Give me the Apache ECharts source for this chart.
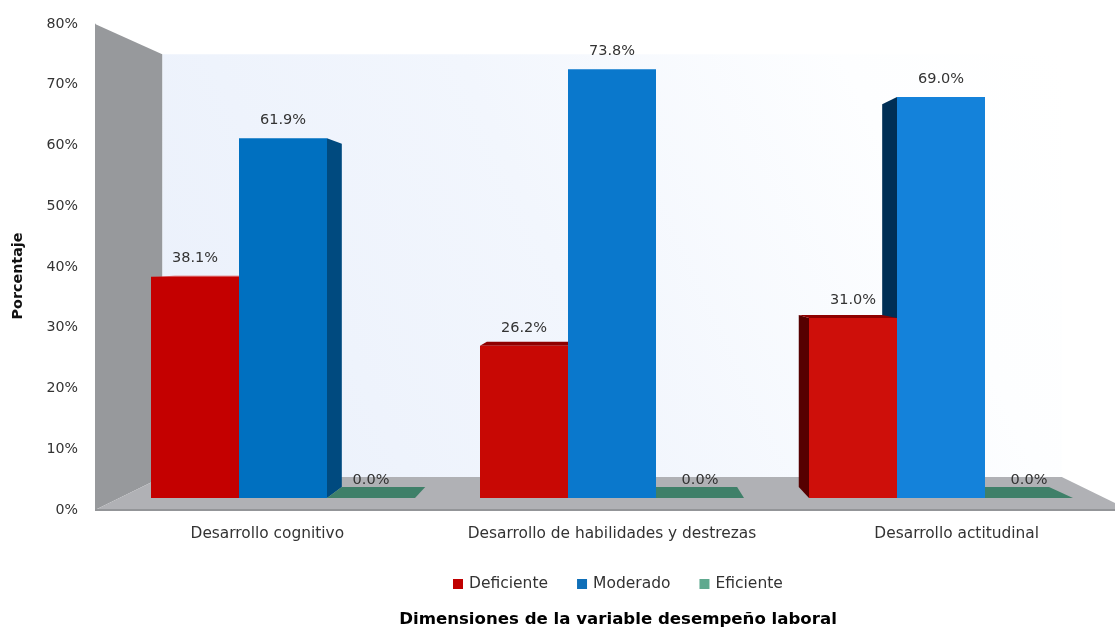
<!DOCTYPE html>
<html><head><meta charset="utf-8">
<style>html,body{margin:0;padding:0;background:#fff}#c{width:1115px;height:628px}</style>
<script src="https://cdn.jsdelivr.net/npm/echarts@6/dist/echarts.min.js"></script>
</head><body><div id="c"></div>
<script>
const categories = ['Desarrollo cognitivo', 'Desarrollo de habilidades y destrezas', 'Desarrollo actitudinal'];
const deficiente = [38.1, 26.2, 31.0];
const moderado = [61.9, 73.8, 69.0];
const eficiente = [0.0, 0.0, 0.0];
const seriesNames = ['Deficiente', 'Moderado', 'Eficiente'];
const legendColors = ['#c00000', '#0f6fb8', '#5fa98f'];
const frontColors = [['#c40000', '#c80804', '#ce0f0a'], ['#0070c0', '#0a78cc', '#1482da'], ['#3f8069', '#3f8069', '#3f8069']];
const sideColors = [['#5c0000', '#7a0000', '#560000'], ['#004a7f', '#004a7f', '#002f55'], ['#3f8069', '#3f8069', '#3f8069']];
const topColors = [['#d84040', '#8f0000', '#8f0000'], ['#0a5a98', '#0a5a98', '#0a5a98'], ['#3f8069', '#3f8069', '#3f8069']];

const VX = 612, VY = 256, WALL_K = 0.13, BAR_KX = 0.052, BAR_KY = 0.0455, BAR_RATIO = 88 / 329;
const TXT = '"DejaVu Sans"';

function poly(points, fill, z2) {
  return { type: 'polygon', shape: { points }, style: { fill }, z2, silent: true };
}
function renderRoom(params) {
  const c = params.coordSys, x0 = c.x, x1 = c.x + c.width, yT = c.y, yB = c.y + c.height;
  const bx = x => x + (VX - x) * WALL_K, by = y => y + (VY - y) * WALL_K;
  const wall = {
    type: 'linear', x: 0, y: 1, x2: 1, y2: 0,
    colorStops: [{ offset: 0, color: '#eaf0fb' }, { offset: 0.45, color: '#f2f6fd' }, { offset: 0.8, color: '#fdfeff' }, { offset: 1, color: '#ffffff' }]
  };
  return {
    type: 'group', children: [
      poly([[bx(x0), by(yT)], [bx(x1), by(yT)], [bx(x1), by(yB)], [bx(x0), by(yB)]], wall, 0),
      poly([[x0, yT], [bx(x0), by(yT)], [bx(x0), by(yB)], [x0, yB]], '#97999c', 1),
      poly([[x0, yB], [bx(x0), by(yB)], [bx(x1), by(yB)], [x1, yB]], '#b0b1b5', 1),
      { type: 'rect', shape: { x: x0, y: yB - 1, width: c.width, height: 2 }, style: { fill: '#939598' }, z2: 2, silent: true }
    ]
  };
}
function renderBar(s) {
  return function (params, api) {
    const i = api.value(0), v = api.value(1);
    const base = api.coord([i, 0]), top = api.coord([i, v]);
    const w = api.size([1, 0])[0] * BAR_RATIO;
    const l = base[0] + (s - 1.5) * w, r = l + w, yb = base[1], yt = top[1];
    const bxp = x => x + (VX - x) * BAR_KX, byp = y => y + (VY - y) * BAR_KY;
    const kids = [];
    if (v > 0) {
      if (bxp(r) > r) kids.push(poly([[r, yt], [bxp(r), byp(yt)], [bxp(r), byp(yb)], [r, yb]], sideColors[s][i], 3));
      if (bxp(l) < l) kids.push(poly([[l, yt], [bxp(l), byp(yt)], [bxp(l), byp(yb)], [l, yb]], sideColors[s][i], 3));
      if (byp(yt) < yt) kids.push(poly([[l, yt], [bxp(l), byp(yt)], [bxp(r), byp(yt)], [r, yt]], topColors[s][i], 4));
      kids.push({ type: 'rect', shape: { x: l, y: yt, width: w, height: yb - yt }, style: { fill: frontColors[s][i] }, z2: 5, silent: true });
    } else {
      kids.push(poly([[l, yb], [bxp(l), byp(yb)], [bxp(r), byp(yb)], [r, yb]], frontColors[s][i], 4));
    }
    kids.push({
      type: 'text', z2: 10, silent: true,
      style: { text: v.toFixed(1) + '%', x: (l + r) / 2, y: yt - 18, align: 'center', verticalAlign: 'middle', fill: '#333', font: '14.5px ' + TXT }
    });
    return { type: 'group', children: kids };
  };
}
const valueLists = [deficiente, moderado, eficiente];
const chart = echarts.init(document.getElementById('c'), null, { renderer: 'canvas' });
chart.setOption({
  animation: false,
  backgroundColor: '#ffffff',
  grid: [
    { left: 95, top: 24, width: 1034, height: 486, outerBoundsMode: 'none' },
    { left: 118.5, top: 33.2, width: 987, height: 464.8, outerBoundsMode: 'none' }
  ],
  xAxis: [
    { type: 'category', gridIndex: 0, data: categories, axisTick: { show: false }, axisLine: { show: false },
      axisLabel: { color: '#333', fontFamily: TXT, fontSize: 15.4, margin: 16, interval: 0 } },
    { type: 'category', gridIndex: 1, data: categories, show: false }
  ],
  yAxis: [
    { type: 'value', gridIndex: 0, min: 0, max: 80, interval: 10, splitLine: { show: false }, axisTick: { show: false },
      axisLine: { show: true, lineStyle: { color: '#c4c6c8', width: 1 } },
      axisLabel: { formatter: '{value}%', color: '#333', fontFamily: TXT, fontSize: 14.2, margin: 17 } },
    { type: 'value', gridIndex: 1, min: 0, max: 80, show: false, splitLine: { show: false } }
  ],
  legend: {
    data: seriesNames, left: 448, top: 571, icon: 'rect', itemWidth: 10, itemHeight: 10, itemGap: 29, selectedMode: false,
    textStyle: { color: '#333', fontFamily: TXT, fontSize: 15.5, padding: [0, 0, 0, 1] }
  },
  title: {
    text: 'Dimensiones de la variable desempeño laboral', left: 613, top: 606, textAlign: 'center',
    textStyle: { color: '#000', fontFamily: TXT, fontSize: 16.6, fontWeight: 'bold' }
  },
  graphic: [{
    type: 'text', x: 18, y: 276, rotation: Math.PI / 2,
    style: { text: 'Porcentaje', align: 'center', verticalAlign: 'middle', fill: '#111', font: 'bold 14.3px ' + TXT }
  }],
  series: [
    { type: 'custom', name: 'room', xAxisIndex: 0, yAxisIndex: 0, data: [0], z: 1, silent: true, renderItem: renderRoom }
  ].concat(seriesNames.map((name, s) => ({
    type: 'custom', name, xAxisIndex: 1, yAxisIndex: 1, z: 2, silent: true,
    itemStyle: { color: legendColors[s] },
    encode: { x: 0, y: 1 },
    data: valueLists[s].map((v, i) => [i, v]),
    renderItem: renderBar(s)
  })))
});
</script></body></html>
